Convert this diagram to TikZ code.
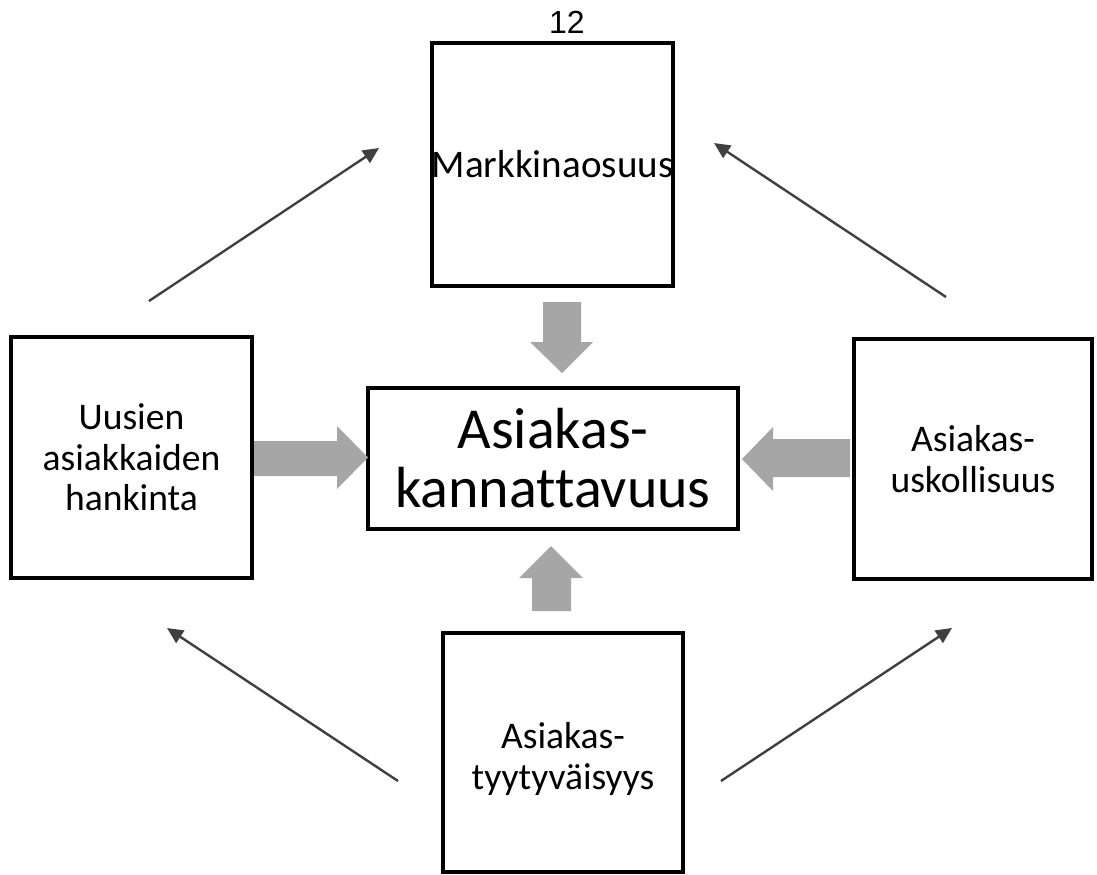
\documentclass[tikz,border=0pt]{standalone}
\usepackage{fontspec}
\setmainfont{Carlito}[Ligatures={NoCommon}]
\newfontfamily\arialfont{Liberation Sans}
\usetikzlibrary{arrows.meta}
\definecolor{blockgray}{RGB}{166,166,166}
\definecolor{linegray}{RGB}{64,64,64}
\begin{document}
\begin{tikzpicture}[x=0.75pt,y=-0.75pt,
  box/.style={draw=black,line width=3pt,fill=white,inner sep=0pt,align=center,
    font=\fontsize{28.2}{30.5}\selectfont},
  bigbox/.style={box,font=\fontsize{43.5}{44.5}\selectfont},
  boxtext/.style={inner sep=0pt,align=center,font=\fontsize{28.2}{30.5}\selectfont},
  link/.style={draw=linegray,line width=1.8pt,-{Triangle[length=12pt,width=11pt]}},
  block/.style={fill=blockgray,draw=none}]
\useasboundingbox (0,0) rectangle (1097,875);
% boxes
\node[box,minimum width=179.25pt,minimum height=182.25pt,font=\fontsize{29.3}{31}\selectfont] (top) at (552.5,164.5) {Markkinaosuus};
\node[box,minimum width=180.75pt,minimum height=180.75pt] (left) at (131.5,457.5) {Uusien\\asiakkaiden\\hankinta};
\node[bigbox,minimum width=277.5pt,minimum height=105.75pt] (center) at (553,458) {Asiakas-\\kannattavuus};
\node[box,minimum width=178.5pt,minimum height=180pt] (right) at (973,459) {Asiakas-\\uskollisuus};
\node[box,minimum width=180pt,minimum height=179.25pt] (bottom) at (563,752.5) {};
\node[boxtext] (bottomtext) at (563,759) {Asiakas-\\tyytyväisyys};
\node[inner sep=0pt] (num) at (567,22) {\arialfont\fontsize{24}{28}\selectfont 12};
% block arrows
\fill[block] (543,302)--(581,302)--(581,342)--(593,342)--(562,373)--(530,342)--(543,342)--cycle;
\fill[block] (254,441)--(337,441)--(337,426)--(368,457.5)--(337,489)--(337,476)--(254,476)--cycle;
\fill[block] (850,439)--(773,439)--(773,427)--(742,459)--(773,491)--(773,477)--(850,477)--cycle;
\fill[block] (532,611)--(571,611)--(571,578)--(583,578)--(551,546)--(519,578)--(532,578)--cycle;
% thin arrows
\coordinate (l1s) at (149,301); \coordinate (l1e) at (379,148);
\coordinate (l2s) at (946,297); \coordinate (l2e) at (714,143);
\coordinate (l3s) at (398,781); \coordinate (l3e) at (167,628);
\coordinate (l4s) at (721,781); \coordinate (l4e) at (952,628);
\draw[link] (l1s) -- (l1e);
\draw[link] (l2s) -- (l2e);
\draw[link] (l3s) -- (l3e);
\draw[link] (l4s) -- (l4e);
\end{tikzpicture}
\end{document}
